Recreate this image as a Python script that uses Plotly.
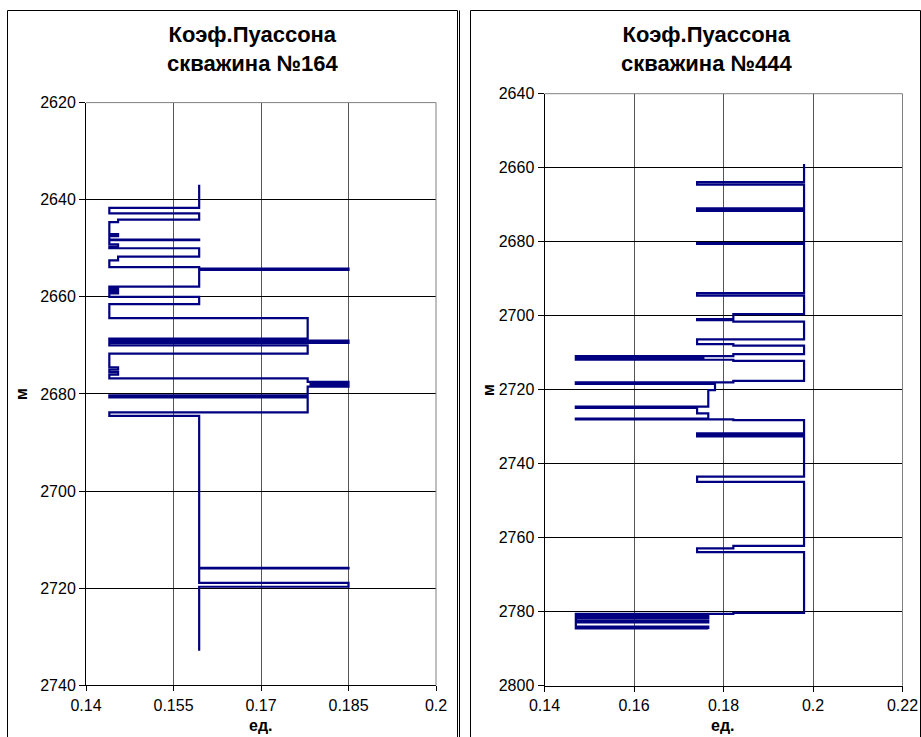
import plotly.graph_objects as go

W, H = 921, 737

# Well 164: layer tops (m) and Poisson's ratio of each layer
tops_164 = [2636.9, 2641.7, 2642.8, 2644.1, 2644.6, 2647.1, 2647.5, 2648.2, 2648.35,
            2649.2, 2649.7, 2650.0, 2651.7, 2652.5, 2653.9, 2654.2, 2654.45, 2657.9,
            2658.3, 2658.6, 2659.0, 2659.3, 2660.0, 2661.5, 2664.4, 2668.6, 2669.0,
            2669.5, 2670.0, 2671.7, 2674.5, 2675.0, 2675.5, 2676.0, 2676.8, 2677.5,
            2677.8, 2678.1, 2678.5, 2680.3, 2680.7, 2683.8, 2684.5, 2715.8, 2715.95,
            2718.9, 2719.7]
vals_164 = [0.1594, 0.144, 0.1594, 0.1455, 0.144, 0.1455, 0.144, 0.1594, 0.144,
            0.1455, 0.144, 0.1594, 0.1455, 0.144, 0.1594, 0.185, 0.1594, 0.144,
            0.1455, 0.144, 0.1455, 0.144, 0.1594, 0.144, 0.178, 0.144, 0.185,
            0.144, 0.178, 0.144, 0.1455, 0.144, 0.1455, 0.144, 0.178, 0.185,
            0.1785, 0.185, 0.178, 0.144, 0.178, 0.144, 0.1594, 0.185, 0.1594,
            0.185, 0.1594]
bottom_164 = 2732.9

# Well 444
tops_444 = [2659.0, 2663.9, 2664.6, 2671.0, 2671.3, 2671.5, 2671.7, 2680.4, 2680.6,
            2693.9, 2694.6, 2699.6, 2700.9, 2701.2, 2701.6, 2706.4, 2707.7, 2708.1,
            2710.4, 2710.9, 2711.2, 2711.5, 2711.9, 2712.2, 2717.6, 2718.0, 2718.4,
            2720.1, 2724.6, 2724.9, 2726.4, 2727.8, 2728.0, 2728.2, 2731.8, 2732.1,
            2732.3, 2732.6, 2743.5, 2744.9, 2762.2, 2762.9, 2763.9, 2780.3, 2780.6,
            2780.9, 2781.2, 2781.5, 2781.8, 2782.5, 2782.9, 2784.0, 2784.3, 2784.5]
vals_444 = [0.198, 0.1741, 0.198, 0.1741, 0.198, 0.1741, 0.198, 0.1741, 0.198,
            0.1741, 0.198, 0.1822, 0.1741, 0.1822, 0.198, 0.1741, 0.1822, 0.198,
            0.1822, 0.147, 0.1755, 0.147, 0.1822, 0.198, 0.1822, 0.147, 0.1781,
            0.1766, 0.147, 0.1741, 0.1766, 0.147, 0.1822, 0.198, 0.1741, 0.198,
            0.1741, 0.198, 0.1741, 0.198, 0.1822, 0.1741, 0.198, 0.1822, 0.147,
            0.1766, 0.147, 0.1766, 0.147, 0.1766, 0.147, 0.1766, 0.147, 0.1766]
bottom_444 = 2784.7

x_ticks_164 = [0.14, 0.155, 0.17, 0.185, 0.2]
x_labels_164 = ["0.14", "0.155", "0.17", "0.185", "0.2"]
y_ticks_164 = [2620, 2640, 2660, 2680, 2700, 2720, 2740]
x_ticks_444 = [0.14, 0.16, 0.18, 0.2, 0.22]
x_labels_444 = ["0.14", "0.16", "0.18", "0.2", "0.22"]
y_ticks_444 = [2640, 2660, 2680, 2700, 2720, 2740, 2760, 2780, 2800]

FONT = "Arial, Liberation Sans, sans-serif"
NAVY = "#000080"


def px(x):
    return x / W


def py(y):
    return 1 - y / H


fig = go.Figure()
fig.add_trace(go.Scatter(x=vals_164 + [vals_164[-1]], y=tops_164 + [bottom_164],
                         mode="lines", line=dict(color=NAVY, width=2.2, shape="vh"),
                         xaxis="x", yaxis="y", showlegend=False, hoverinfo="skip"))
fig.add_trace(go.Scatter(x=vals_444 + [vals_444[-1]], y=tops_444 + [bottom_444],
                         mode="lines", line=dict(color=NAVY, width=2.2, shape="vh"),
                         xaxis="x2", yaxis="y2", showlegend=False, hoverinfo="skip"))

tickfont = dict(family=FONT, size=16, color="#000")
common_x = dict(showline=True, linecolor="#000", linewidth=1, ticks="outside", ticklen=5,
                tickcolor="#000", showgrid=True, gridcolor="#555", gridwidth=1,
                zeroline=False, tickfont=tickfont, fixedrange=True, automargin=False)
common_y = dict(showline=True, linecolor="#000", linewidth=1, ticks="outside", ticklen=6,
                tickcolor="#000", showgrid=True, gridcolor="#000", gridwidth=1,
                zeroline=False, tickfont=tickfont, fixedrange=True, automargin=False)

# plot-area pixel boxes
L = dict(x0=86, x1=436, y0=102.6, y1=685.3)
R = dict(x0=544.5, x1=902.5, y0=93.7, y1=685.7)

fig.update_layout(
    width=W, height=H, margin=dict(l=0, r=0, t=0, b=0, autoexpand=False),
    paper_bgcolor="white", plot_bgcolor="white", showlegend=False,
    xaxis=dict(common_x, domain=[px(L["x0"]), px(L["x1"])], range=[0.14, 0.2],
               tickvals=x_ticks_164, ticktext=x_labels_164, anchor="y"),
    yaxis=dict(common_y, domain=[py(L["y1"]), py(L["y0"])], range=[2740, 2620],
               tickvals=y_ticks_164, anchor="x"),
    xaxis2=dict(common_x, domain=[px(R["x0"]), px(R["x1"])], range=[0.14, 0.22],
                tickvals=x_ticks_444, ticktext=x_labels_444, anchor="y2"),
    yaxis2=dict(common_y, domain=[py(R["y1"]), py(R["y0"])], range=[2800, 2640],
                tickvals=y_ticks_444, anchor="x2"),
)

shapes = []
# gray plot-area border on the top and right sides
for b in (L, R):
    shapes.append(dict(type="line", xref="paper", yref="paper", layer="above",
                       x0=px(b["x0"]), x1=px(b["x1"]), y0=py(b["y0"]), y1=py(b["y0"]),
                       line=dict(color="#808080", width=1)))
    shapes.append(dict(type="line", xref="paper", yref="paper", layer="above",
                       x0=px(b["x1"]), x1=px(b["x1"]), y0=py(b["y0"]), y1=py(b["y1"]),
                       line=dict(color="#808080", width=1)))
# chart frames
for x0, x1 in ((7.5, 457.5), (470.5, 920.5)):
    shapes.append(dict(type="rect", xref="paper", yref="paper", layer="above",
                       x0=px(x0), x1=px(x1), y0=-0.1, y1=py(10.5),
                       line=dict(color="#000", width=1), fillcolor="rgba(0,0,0,0)"))
shapes.append(dict(type="line", xref="paper", yref="paper", layer="above",
                   x0=px(459.5), x1=px(459.5), y0=-0.1, y1=py(10.5),
                   line=dict(color="#000", width=1)))
fig.update_layout(shapes=shapes)

title_font = dict(family=FONT, size=22, color="#000")
axis_font = dict(family=FONT, size=16, color="#000")
annotations = [
    dict(text="<b>Коэф.Пуассона<br>скважина №164</b>", x=px(252), y=py(20),
         xanchor="center", yanchor="top", font=title_font),
    dict(text="<b>Коэф.Пуассона<br>скважина №444</b>", x=px(706.7), y=py(20),
         xanchor="center", yanchor="top", font=title_font),
    dict(text="<b>ед.</b>", x=px(261), y=py(725), xanchor="center", yanchor="middle",
         font=axis_font),
    dict(text="<b>ед.</b>", x=px(723), y=py(725), xanchor="center", yanchor="middle",
         font=axis_font),
    dict(text="<b>м</b>", x=px(21), y=py(394), xanchor="center", yanchor="middle",
         textangle=-90, font=axis_font),
    dict(text="<b>м</b>", x=px(488), y=py(390), xanchor="center", yanchor="middle",
         textangle=-90, font=axis_font),
]
for a in annotations:
    a.update(xref="paper", yref="paper", showarrow=False)
fig.update_layout(annotations=annotations)

fig.write_html("out.html")
